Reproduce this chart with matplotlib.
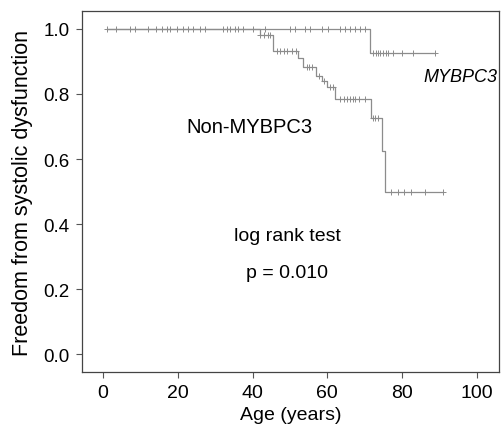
import matplotlib
matplotlib.use("Agg")
import matplotlib.pyplot as plt
import numpy as np

plt.rcParams["font.family"] = ["Liberation Sans", "DejaVu Sans"]

# ------------------------------------------------------------------ data --
# Kaplan-Meier steps (age at event, survival after event)
mybpc3_t = [1.0, 71.4, 88.8]
mybpc3_s = [1.0, 0.925, 0.925]
mybpc3_cens = [1.0, 3.6, 7.2, 12.1, 15.7, 17.9, 21.5, 24.2, 27.3, 33.1,
               35.3, 37.5, 40.2, 43.3, 50.0, 51.3, 54.0, 55.3, 58.5, 60.2,
               63.4, 64.7, 66.0, 67.4, 68.7, 70.0,
               72.2, 73.0, 73.5, 74.2, 74.9, 75.6, 76.2, 77.5, 80.0, 83.0, 88.8]

non_t = [1.0, 42.0, 45.5, 52.2, 53.5, 57.1, 58.5, 60.0, 62.0, 71.8, 74.5,
         75.4, 91.0]
non_s = [1.0, 0.98, 0.933, 0.91, 0.883, 0.856, 0.84, 0.82, 0.785, 0.726,
         0.626, 0.50, 0.50]
non_cens = [8.5, 14.3, 17.0, 19.7, 22.8, 26.0, 32.2, 34.0, 36.2, 42.0,
            43.0, 44.0, 44.6, 46.5, 47.3, 48.5, 49.2, 50.5, 51.5,
            54.5, 55.2, 56.0, 57.8, 59.0, 60.8, 61.5,
            63.5, 64.5, 65.2, 66.0, 66.8, 67.5, 68.5, 70.0,
            72.3, 72.8, 73.5, 77.0, 79.0, 80.5, 82.5, 86.0, 91.0]

xticks = [0, 20, 40, 60, 80, 100]
yticks = [0.0, 0.2, 0.4, 0.6, 0.8, 1.0]

LINE = "#8c8c8c"
FS = 14


def surv_at(t_steps, s_steps, times):
    idx = np.searchsorted(t_steps, times, side="right") - 1
    return np.asarray(s_steps)[np.clip(idx, 0, None)]


fig = plt.figure(figsize=(5.01, 4.31), dpi=100)
ax = fig.add_axes([0.1637, 0.1346, 0.8323, 0.8374])

for t, s, c in [(mybpc3_t, mybpc3_s, mybpc3_cens), (non_t, non_s, non_cens)]:
    ax.step(t, s, where="post", color=LINE, lw=0.9, zorder=3)
    ax.plot(c, surv_at(t, s, c), ls="none", marker="+", ms=4.5, mew=0.7,
            color=LINE, zorder=4)

ax.set_xlim(-5.6, 105.9)
ax.set_ylim(-0.055, 1.055)
ax.set_xticks(xticks)
ax.set_yticks(yticks)
ax.set_xticklabels([str(v) for v in xticks], fontsize=FS)
ax.set_yticklabels([f"{v:.1f}" for v in yticks], fontsize=FS - 0.5)
ax.tick_params(direction="out", length=4, width=0.8, color="#555555", pad=5)
for sp in ax.spines.values():
    sp.set_color("#444444")
    sp.set_linewidth(0.9)

ax.set_xlabel("Age (years)", fontsize=FS, labelpad=3)
ax.set_ylabel("Freedom from systolic dysfunction", fontsize=FS + 1.5)
ax.yaxis.set_label_coords(-0.117, 0.5)

ax.text(95.5, 0.853, "MYBPC3", fontsize=FS - 1, style="italic",
        ha="center", va="center")
ax.text(39.3, 0.70, "Non-MYBPC3", fontsize=FS + 0.5, ha="center", va="center")
ax.text(49.2, 0.364, "log rank test", fontsize=FS, ha="center", va="center")
ax.text(49.2, 0.251, "p = 0.010", fontsize=FS, ha="center", va="center")

fig.savefig("out.png", dpi=100, facecolor="white")
